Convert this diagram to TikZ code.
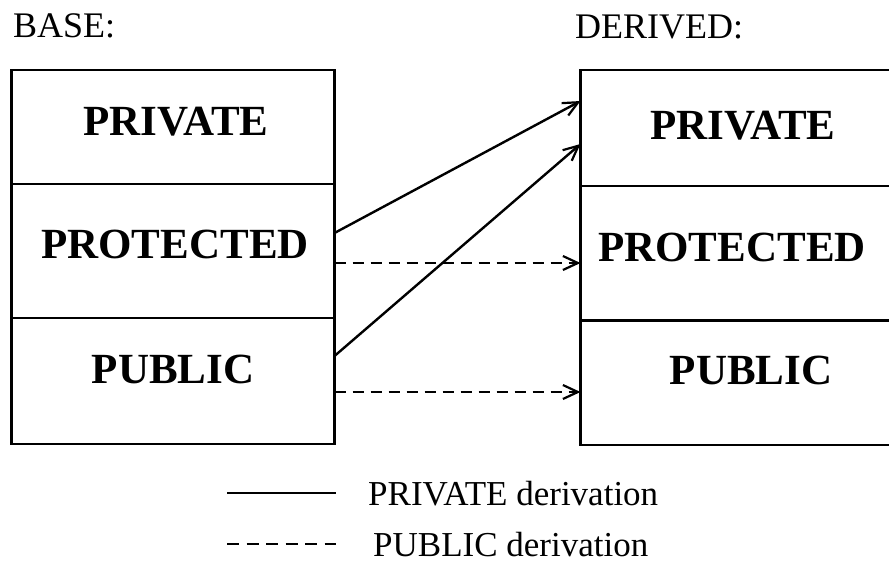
\documentclass[tikz,border=0pt]{standalone}
\usepackage{fontspec}
\setmainfont{Liberation Serif}
\usetikzlibrary{arrows.meta}
\tikzset{
  cell/.style={draw, line width=2.4pt, minimum width=323pt, inner sep=0pt, outer sep=0pt},
  celltext/.style={font=\fontsize{43}{50}\selectfont\bfseries, inner sep=0pt, anchor=base},
  title/.style={font=\fontsize{36}{42}\selectfont, inner sep=0pt, anchor=base west},
  legtext/.style={font=\fontsize{35}{41}\selectfont, inner sep=0pt, anchor=base west},
  privarrow/.style={line width=2.4pt, -{Straight Barb[length=15pt,width=14pt,line width=2.2pt]}},
  pubarrow/.style={line width=2.4pt, dash pattern=on 11pt off 7pt, -{Straight Barb[length=15pt,width=14pt,line width=2.2pt]}},
  legsolid/.style={line width=2.4pt},
  legdash/.style={line width=2.4pt, dash pattern=on 12pt off 7.5pt}
}
\begin{document}
\begin{tikzpicture}[x=1pt,y=-1pt]
\useasboundingbox (0,0) rectangle (889,573);
\clip (0,0) rectangle (889,573);
% titles
\node[title] (tbase) at (13,37) {BASE:};
\node[title] (tder) at (575,38) {DERIVED:};
% base class cells
\node[cell, minimum height=114pt] (bpriv) at (173,127) {};
\node[cell, minimum height=134pt] (bprot) at (173,251) {};
\node[cell, minimum height=126pt] (bpub) at (173,381) {};
\node[celltext] (lbpriv) at (176,135) {PRIVATE};
\node[celltext] (lbprot) at (175,258) {PROTECTED};
\node[celltext] (lbpub) at (173,383) {PUBLIC};
% derived class cells
\node[cell, minimum height=116pt] (dpriv) at (742,128) {};
\node[cell, minimum height=134pt] (dprot) at (742,253) {};
\node[cell, minimum height=124pt] (dpub) at (742,383) {};
\node[celltext] (ldpriv) at (743,139) {PRIVATE};
\node[celltext] (ldprot) at (732,261) {PROTECTED};
\node[celltext] (ldpub) at (751,384) {PUBLIC};
% connectors
\draw[privarrow] (bprot.east |- 0,233) -- (dpriv.west |- 0,101);
\draw[privarrow] (bpub.east |- 0,356) -- (dpriv.west |- 0,144);
\draw[pubarrow] (bprot.east |- 0,263) -- (dprot.west |- 0,263);
\draw[pubarrow] (bpub.east |- 0,392) -- (dpub.west |- 0,392);
% legend
\coordinate (ls1) at (227,493);
\coordinate (le1) at (336,493);
\coordinate (ls2) at (227,544);
\coordinate (le2) at (336,544);
\draw[legsolid] (ls1) -- (le1);
\draw[legdash] (ls2) -- (le2);
\node[legtext] (lpriv) at (368,505) {PRIVATE derivation};
\node[legtext] (lpub) at (373,556) {PUBLIC derivation};
\end{tikzpicture}
\end{document}
